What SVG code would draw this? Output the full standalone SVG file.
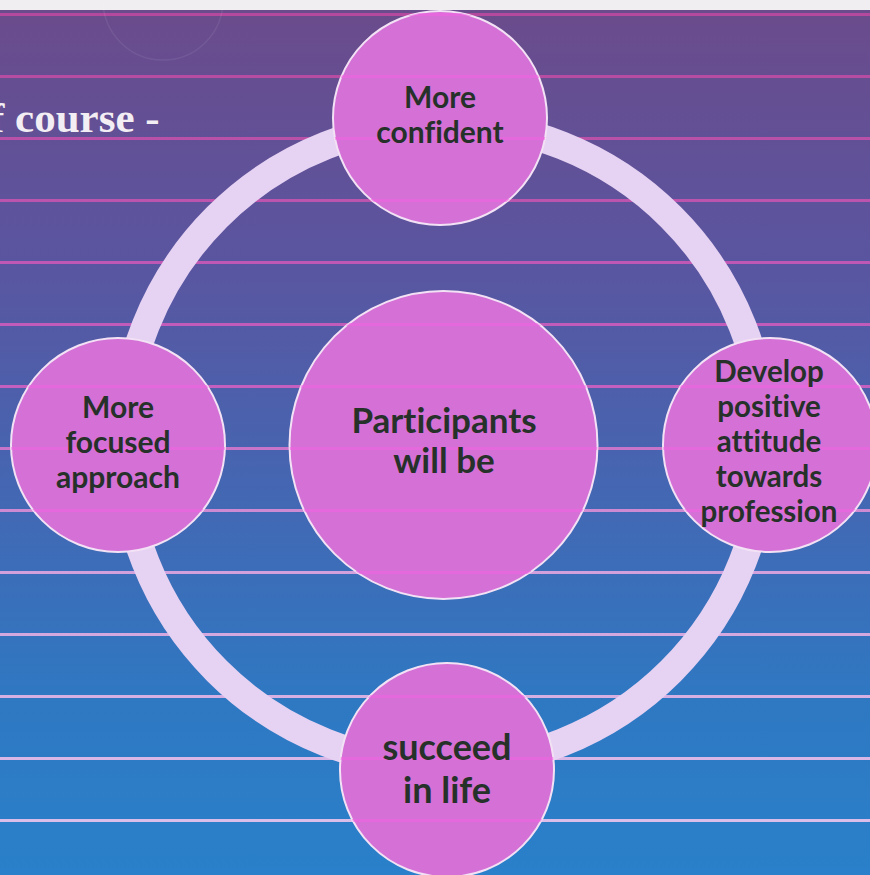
<svg xmlns="http://www.w3.org/2000/svg" width="870" height="875" viewBox="0 0 870 875">
  <defs>
    <linearGradient id="bg" x1="0" y1="0" x2="0" y2="875" gradientUnits="userSpaceOnUse">
      <stop offset="0" stop-color="#6b4b8b"/>
      <stop offset="0.3" stop-color="#5a55a0"/>
      <stop offset="0.55" stop-color="#4566b2"/>
      <stop offset="0.8" stop-color="#2f78c2"/>
      <stop offset="1" stop-color="#2a80ca"/>
    </linearGradient>
    <linearGradient id="lineGrad" x1="0" y1="0" x2="0" y2="875" gradientUnits="userSpaceOnUse">
      <stop offset="0" stop-color="#b4489c"/>
      <stop offset="0.45" stop-color="#c460c0"/>
      <stop offset="0.65" stop-color="#d2a0dc"/>
      <stop offset="1" stop-color="#dcc4ec"/>
    </linearGradient>
    <clipPath id="nodeClip">
      <circle cx="440" cy="118" r="107"/>
      <circle cx="118" cy="445" r="107"/>
      <circle cx="770" cy="445" r="107"/>
      <circle cx="447" cy="770" r="107"/>
      <circle cx="443.5" cy="445" r="154"/>
    </clipPath>
    <g id="stripes">
      <rect x="0" y="13" width="870" height="3"/>
      <rect x="0" y="75" width="870" height="3"/>
      <rect x="0" y="137" width="870" height="3"/>
      <rect x="0" y="199" width="870" height="3"/>
      <rect x="0" y="261" width="870" height="3"/>
      <rect x="0" y="323" width="870" height="3"/>
      <rect x="0" y="385" width="870" height="3"/>
      <rect x="0" y="447" width="870" height="3"/>
      <rect x="0" y="509" width="870" height="3"/>
      <rect x="0" y="571" width="870" height="3"/>
      <rect x="0" y="633" width="870" height="3"/>
      <rect x="0" y="695" width="870" height="3"/>
      <rect x="0" y="757" width="870" height="3"/>
      <rect x="0" y="819" width="870" height="3"/>
    </g>
  </defs>
  <style>
    .node { fill: #d470d6; stroke: #f3e2f5; stroke-width: 2; }
    .lbl { font-family: Lato, "Open Sans", "Liberation Sans", sans-serif; font-weight: bold; fill: #26312a; text-anchor: middle; font-variant-ligatures: none; }
    .s30 { font-size: 30px; }
    .s29 { font-size: 29.5px; }
    .s35 { font-size: 35px; }
    .s36 { font-size: 36px; }
  </style>

  <!-- background -->
  <rect x="0" y="0" width="870" height="875" fill="#f1eef1"/>
  <rect x="0" y="10" width="870" height="865" fill="url(#bg)"/>
  <use href="#stripes" fill="url(#lineGrad)"/>
  <circle cx="163" cy="0" r="60" fill="none" stroke="#ffffff" stroke-opacity="0.07" stroke-width="1.5"/>
  <text x="-10" y="132" font-family="'Liberation Serif', serif" font-weight="bold" font-size="43" fill="#f3eef3">f course -</text>

  <!-- connectors -->
  <g id="connectors">
    <circle cx="444" cy="444" r="321" fill="none" stroke="#e6d2f2" stroke-width="28"/>
  </g>

  <!-- node shapes -->
  <g id="node-center">
    <circle class="node" cx="443.5" cy="445" r="154"/>
  </g>
  <g id="node-top">
    <circle class="node" cx="440" cy="118" r="107"/>
  </g>
  <g id="node-left">
    <circle class="node" cx="118" cy="445" r="107"/>
  </g>
  <g id="node-right">
    <circle class="node" cx="770" cy="445" r="107"/>
  </g>
  <g id="node-bottom">
    <circle class="node" cx="447" cy="770" r="107"/>
  </g>

  <!-- stripes seen through the circles -->
  <use href="#stripes" fill="#f264e2" fill-opacity="0.55" clip-path="url(#nodeClip)"/>

  <!-- node labels -->
  <g id="label-center">
    <text class="lbl s35" x="444" y="433">Participants</text>
    <text class="lbl s35" x="444" y="473">will be</text>
  </g>
  <g id="label-top">
    <text class="lbl s30" x="440" y="108">More</text>
    <text class="lbl s30" x="440" y="143">confident</text>
  </g>
  <g id="label-left">
    <text class="lbl s30" x="118" y="418">More</text>
    <text class="lbl s30" x="118" y="453">focused</text>
    <text class="lbl s30" x="118" y="488">approach</text>
  </g>
  <g id="label-right">
    <text class="lbl s29" x="769" y="382">Develop</text>
    <text class="lbl s29" x="769" y="417">positive</text>
    <text class="lbl s29" x="769" y="452">attitude</text>
    <text class="lbl s29" x="769" y="487">towards</text>
    <text class="lbl s29" x="769" y="522">profession</text>
  </g>
  <g id="label-bottom">
    <text class="lbl s36" x="447" y="760">succeed</text>
    <text class="lbl s36" x="447" y="803">in life</text>
  </g>
</svg>
